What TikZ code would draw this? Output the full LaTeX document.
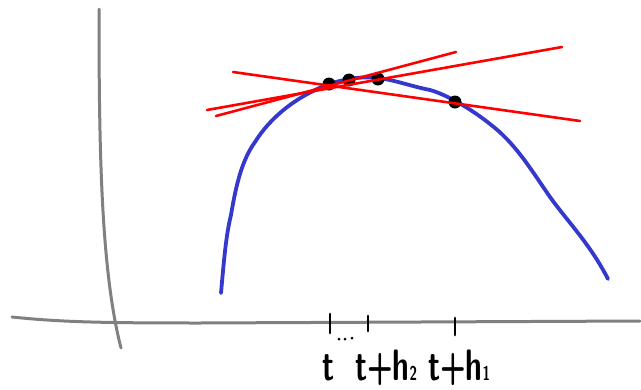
\documentclass[tikz,border=0pt]{standalone}
\usetikzlibrary{calc}
\definecolor{axisgray}{RGB}{128,128,128}
\definecolor{curveblue}{RGB}{52,56,204}
\definecolor{secred}{RGB}{255,0,0}
\newcommand{\smallsub}[1]{{\fontsize{20}{20}\selectfont #1}}
\begin{document}
\begin{tikzpicture}[x=1pt,y=-1pt,
  axisline/.style={draw=axisgray,line width=3pt,line cap=round},
  curveline/.style={draw=curveblue,line width=3.8pt,line cap=round,line join=round},
  secline/.style={draw=secred,line width=2.6pt,line cap=round},
  dotmark/.style={circle,fill=black,inner sep=0pt,minimum size=13pt},
  tickline/.style={draw=black,line width=2.8pt,line cap=round},
  lab/.style={anchor=base,inner sep=0pt,font=\fontsize{44}{44}\sffamily\bfseries\selectfont,xscale=0.68,transform shape}]
\useasboundingbox (0,0) rectangle (641,389);
% axes
\draw[axisline] (99,9) .. controls (99,150) and (101,270) .. (121,348);
\draw[axisline] (12,317) .. controls (60,322) and (100,323) .. (200,323) -- (640,321);
% curve
\draw[curveline] (221,293) .. controls (224,260) and (226,235) .. (231,215)
  .. controls (236,185) and (242,160) .. (255,142)
  .. controls (270,118) and (295,97) .. (329,84)
  .. controls (345,79) and (362,76) .. (378,78)
  .. controls (395,80) and (410,86) .. (430,90)
  .. controls (445,94) and (470,108) .. (490,124)
  .. controls (515,143) and (530,168) .. (550,197)
  .. controls (568,222) and (590,244) .. (608,279);
% points
\node[dotmark] (p0) at (329,84) {};
\node[dotmark] (p1) at (349,80) {};
\node[dotmark] (p2) at (378,79) {};
\node[dotmark] (p3) at (455,102) {};
% secant lines
\coordinate (a1) at (233,72); \coordinate (b1) at (580,121);
\coordinate (a2) at (207,110); \coordinate (b2) at (562,47);
\coordinate (a3) at (216,116); \coordinate (b3) at (456,52);
\draw[secline] (a1) -- (b1);
\draw[secline] (a2) -- (b2);
\draw[secline] (a3) -- (b3);
% ticks
\coordinate (t0a) at (330,314); \coordinate (t0b) at (330,333);
\coordinate (t1a) at (368,316); \coordinate (t1b) at (368,331);
\coordinate (t2a) at (455,318); \coordinate (t2b) at (455,335);
\draw[tickline] (t0a) -- (t0b);
\draw[tickline] (t1a) -- (t1b);
\draw[tickline] (t2a) -- (t2b);
\node[circle,fill=black,inner sep=0pt,minimum size=3pt] (d1) at (339,339) {};
\node[circle,fill=black,inner sep=0pt,minimum size=3pt] (d2) at (345,339) {};
\node[circle,fill=black,inner sep=0pt,minimum size=3pt] (d3) at (352,338) {};
% labels
\node[lab] (l0) at (329,380) {t};
\node[lab] (l1) at (386,380) {t+h\smallsub{2}};
\node[lab] (l2) at (459,380) {t+h\smallsub{1}};
\end{tikzpicture}
\end{document}
